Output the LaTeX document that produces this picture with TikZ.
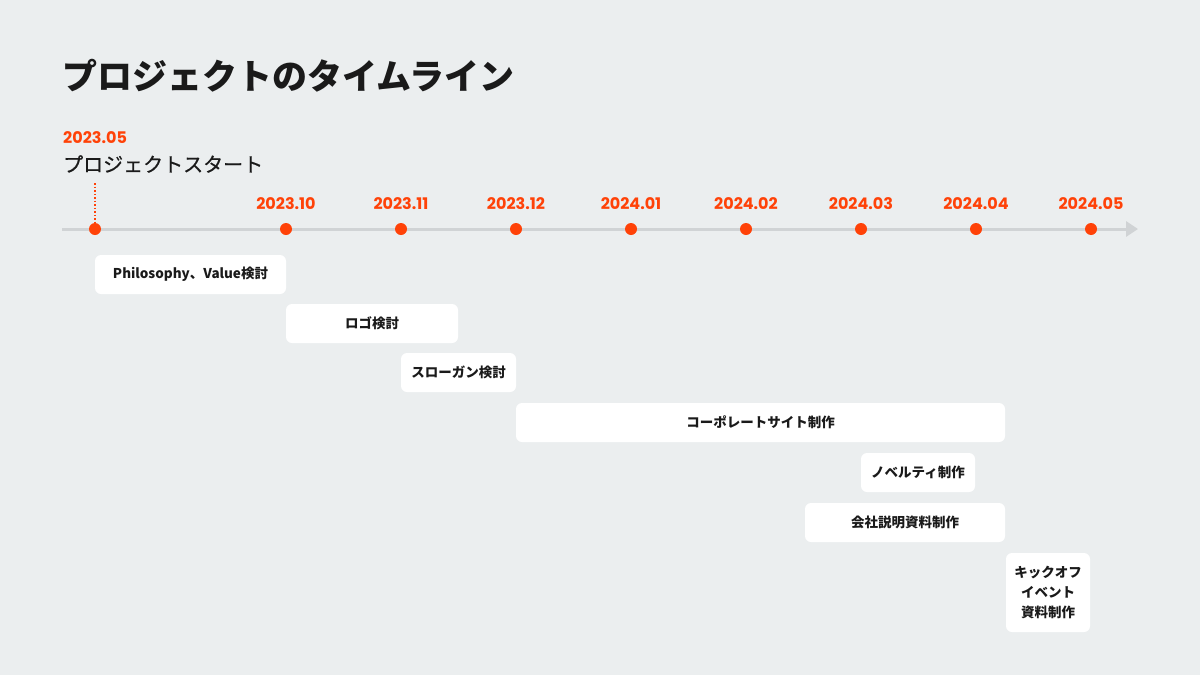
\documentclass[tikz,border=0pt]{standalone}
\usepackage{fontspec}
\usetikzlibrary{arrows.meta}
\setmainfont{Noto Sans CJK JP}
\newfontfamily\jpf{Noto Sans CJK JP}
\newfontfamily\jpmed{Noto Sans CJK JP}[FakeBold=0.6]
\newfontfamily\numf{Poppins}
\definecolor{bgc}{HTML}{EBEEEF}
\definecolor{accent}{HTML}{FF4208}
\definecolor{ink}{HTML}{1A1A1A}
\definecolor{axisc}{HTML}{D0D3D5}
\tikzset{
  dot/.style={circle, fill=accent, inner sep=0pt, minimum size=12pt},
  datelabel/.style={text=accent, font=\numf\bfseries\fontsize{16}{19}\selectfont, inner sep=0pt},
  bar/.style={fill=white, rounded corners=6pt, inner sep=0pt, text=ink,
    font=\jpf\bfseries\fontsize{13.5}{20}\selectfont, align=center},
  axisline/.style={draw=axisc, line width=3pt, -{Triangle[length=12pt,width=15pt]}}
}
\begin{document}
\begin{tikzpicture}[x=1pt,y=-1pt]
\fill[bgc] (0,0) rectangle (1200,675);
\useasboundingbox (0,0) rectangle (1200,675);
% title
\node[anchor=west, inner sep=0pt, text=ink, font=\jpf\bfseries\fontsize{35}{40}\selectfont] (title) at (62,76) {プロジェクトのタイムライン};
% start label
\node[datelabel, anchor=west] (startdate) at (63,138) {2023.05};
\node[anchor=west, inner sep=0pt, text=ink, font=\jpmed\fontsize{20}{24}\selectfont] (starttext) at (63,164) {プロジェクトスタート};
% axis
\coordinate (axS) at (62,229);
\coordinate (axE) at (1138,229);
\draw[axisline] (axS) -- (axE);
% dots and dates
\foreach \i/\x in {1/95,2/286,3/401,4/516,5/631,6/746,7/861,8/976,9/1091}{
  \node[dot] (d\i) at (\x,229) {};
}
\foreach \i/\x/\lab in {2/286/2023.10,3/401/2023.11,4/516/2023.12,5/631/2024.01,6/746/2024.02,7/861/2024.03,8/976/2024.04,9/1091/2024.05}{
  \node[datelabel] (t\i) at (\x,204) {\lab};
}
\coordinate (dtop) at (95,183);
\draw[accent, line width=1.2pt, dash pattern=on 1.5pt off 2pt] (dtop) -- (d1.north);
% bars
\node[bar, minimum width=191pt, minimum height=39pt] (b1) at (190.5,274.5) {Philosophy、Value検討};
\node[bar, minimum width=172pt, minimum height=39pt] (b2) at (372,323.5) {ロゴ検討};
\node[bar, minimum width=115pt, minimum height=39pt] (b3) at (458.5,372.5) {スローガン検討};
\node[bar, minimum width=489pt, minimum height=39pt] (b4) at (760.5,422.5) {コーポレートサイト制作};
\node[bar, minimum width=114pt, minimum height=39pt] (b5) at (918,472.5) {ノベルティ制作};
\node[bar, minimum width=200pt, minimum height=39pt] (b6) at (905,522.5) {会社説明資料制作};
\node[bar, minimum width=84pt, minimum height=79pt] (b7) at (1048,592.5) {キックオフ\\イベント\\資料制作};
\end{tikzpicture}
\end{document}
